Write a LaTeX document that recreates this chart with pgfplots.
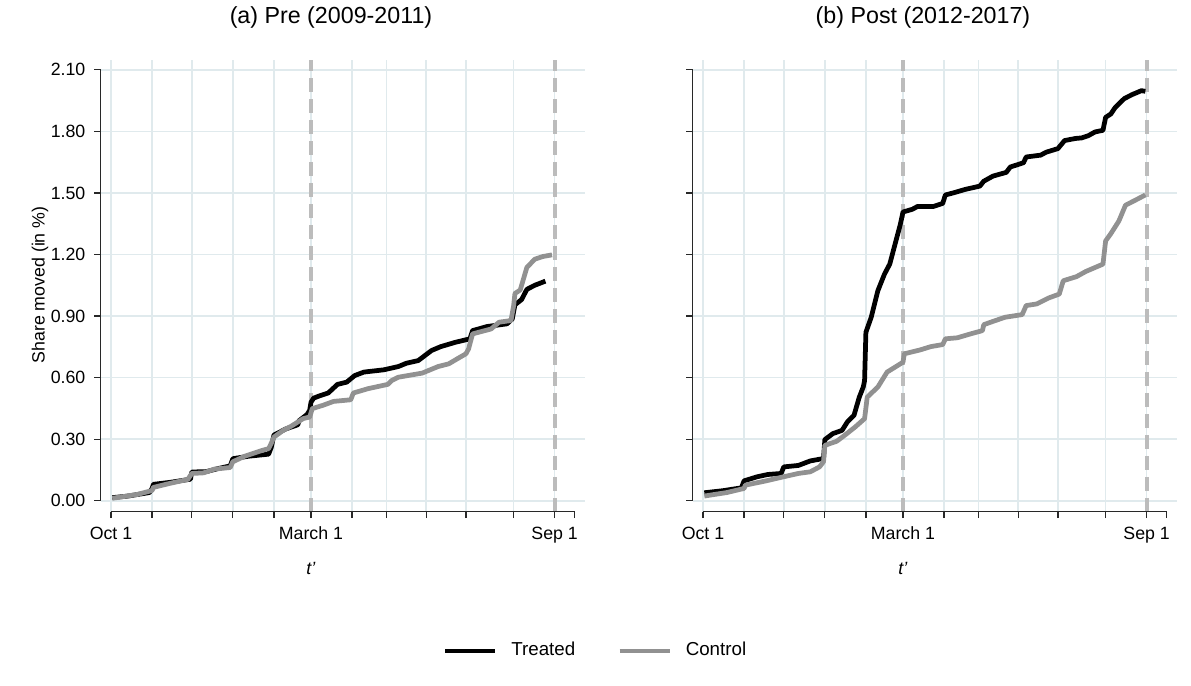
\documentclass[border=0pt]{standalone}
\usepackage{fontspec}
\setmainfont{Liberation Sans}
\usepackage{pgfplots}
\pgfplotsset{compat=1.18}

\definecolor{gridc}{RGB}{224,234,237}
\definecolor{ctrl}{RGB}{145,145,145}
\definecolor{dashc}{RGB}{188,188,188}
\definecolor{axc}{RGB}{40,40,40}

\tikzset{vdash/.style={dashc, line width=1.7pt, dash pattern=on 5.6pt off 2.8pt}}

\pgfplotsset{
  panel/.style={
    width=193.72pt, height=180.68pt, scale only axis,
    xmin=-7.78, xmax=357.9, ymin=-0.0534, ymax=2.1475,
    axis line style={draw=none},
    xtick={0,31,61,92,123,151,182,208,238,268,304,335},
    xticklabels={Oct 1,,,,,March 1,,,,,,Sep 1},
    extra x ticks={350}, extra x tick labels={}, extra x tick style={grid=none},
    ytick={0,0.3,0.6,0.9,1.2,1.5,1.8,2.1},
    /pgf/number format/assume math mode=true,
    yticklabel style={/pgf/number format/.cd, fixed, fixed zerofill, precision=2},
    tick align=outside, tick pos=left, major tick length=2.6pt,
    tick style={line width=0.5pt, axc},
    grid=major, major grid style={gridc, line width=0.6pt},
    ticklabel style={font=\fontsize{7.1}{8}\selectfont},
    clip=false,
  },
  treated/.style={black, line width=1.9pt, line join=round},
  control/.style={ctrl, line width=1.9pt, line join=round},
}

\begin{document}
\begin{tikzpicture}
\path[use as bounding box] (-40.28pt,-69.32pt) rectangle (436.12pt,204.68pt);

% ---------- (a) Pre ----------
\begin{axis}[panel, name=left,
  legend style={at={(axis description cs:1.0248,-0.3084)}, anchor=center,
    draw=none, fill=none, legend columns=2,
    font=\fontsize{7.5}{9}\selectfont,
    /tikz/every odd column/.append style={column sep=3.5pt},
    /tikz/every even column/.append style={column sep=14.8pt}},
  legend image code/.code={\draw[#1] (0pt,0pt) -- (20pt,0pt);},
]
\draw[vdash] (axis cs:151,-0.0534) -- (axis cs:151,2.1475);
\draw[vdash] (axis cs:335,-0.0534) -- (axis cs:335,2.1475);
\draw[axc, line width=0.5pt] (axis cs:0,-0.0534) -- (axis cs:350,-0.0534);
\draw[axc, line width=0.5pt] (axis cs:-7.78,0) -- (axis cs:-7.78,2.1);

\addplot[treated] coordinates {
(1,0.015) (13,0.023) (29,0.040) (31,0.060) (32,0.080) (45,0.090) (55,0.100) (60,0.105)
(61,0.140) (72,0.142) (81,0.157) (90,0.170) (92,0.205) (104,0.217) (119,0.227) (121,0.260)
(123,0.320) (132,0.350) (141,0.370) (142,0.390) (148,0.420) (150,0.440) (151,0.480) (153,0.500)
(157,0.510) (164,0.525) (171,0.567) (178,0.578) (184,0.610) (191,0.627) (206,0.638) (217,0.654)
(223,0.670) (232,0.683) (242,0.732) (249,0.751) (260,0.772) (271,0.789) (273,0.829) (284,0.849)
(299,0.862) (303,0.886) (305,0.955) (310,0.980) (314,1.030) (320,1.050) (328,1.070)
};
\addlegendentry{Treated}
\addplot[control] coordinates {
(1,0.012) (20,0.031) (31,0.050) (32,0.065) (44,0.084) (58,0.104) (61,0.133) (70,0.136)
(78,0.154) (90,0.162) (92,0.190) (101,0.217) (113,0.243) (119,0.254) (121,0.280) (123,0.310)
(130,0.343) (136,0.363) (145,0.400) (150,0.408) (152,0.449) (160,0.465) (168,0.484) (181,0.492)
(183,0.525) (194,0.546) (209,0.567) (212,0.586) (217,0.602) (235,0.622) (247,0.654) (255,0.667)
(261,0.690) (268,0.716) (270,0.740) (273,0.813) (287,0.837) (293,0.870) (302,0.878) (304,0.950)
(305,1.010) (309,1.027) (314,1.137) (320,1.177) (326,1.190) (333,1.198)
};
\addlegendentry{Control}

\node[font=\fontsize{9.3}{11}\selectfont] at (axis description cs:0.4755,1.095) {(a) Pre (2009-2011)};
\node[font=\fontsize{7.1}{8}\selectfont\itshape] at (axis description cs:0.434,-0.1246) {t'};
\node[rotate=90, font=\fontsize{7.1}{8}\selectfont] at (axis description cs:-0.1253,0.502) {Share moved (in \%)};
\end{axis}

% ---------- (b) Post ----------
\begin{axis}[panel, at={(236.8pt,0pt)}, yticklabels={}]
\draw[vdash] (axis cs:151,-0.0534) -- (axis cs:151,2.1475);
\draw[vdash] (axis cs:335,-0.0534) -- (axis cs:335,2.1475);
\draw[axc, line width=0.5pt] (axis cs:0,-0.0534) -- (axis cs:350,-0.0534);
\draw[axc, line width=0.5pt] (axis cs:-7.78,0) -- (axis cs:-7.78,2.1);

\addplot[treated] coordinates {
(1,0.039) (15,0.049) (29,0.063) (31,0.097) (41,0.117) (49,0.128) (59,0.133) (61,0.165)
(72,0.172) (81,0.194) (91,0.206) (92,0.298) (98,0.327) (105,0.343) (109,0.384) (114,0.416)
(118,0.505) (121,0.554) (122,0.586) (123,0.821) (127,0.894) (132,1.023) (137,1.104) (141,1.153)
(145,1.250) (149,1.347) (151,1.407) (158,1.420) (162,1.434) (174,1.434) (181,1.449) (183,1.490)
(189,1.500) (198,1.517) (209,1.533) (212,1.557) (219,1.582) (229,1.600) (232,1.626) (242,1.647)
(244,1.675) (255,1.684) (259,1.698) (268,1.716) (273,1.755) (281,1.765) (286,1.768) (291,1.779)
(296,1.797) (302,1.805) (304,1.868) (308,1.885) (311,1.914) (318,1.959) (324,1.979) (331,1.998)
(334,1.995)
};
\addplot[control] coordinates {
(1,0.023) (18,0.040) (31,0.060) (32,0.076) (47,0.096) (61,0.117) (72,0.133) (81,0.141)
(88,0.165) (91,0.190) (92,0.270) (101,0.290) (107,0.319) (115,0.360) (122,0.400) (124,0.505)
(132,0.554) (139,0.627) (147,0.659) (151,0.675) (152,0.716) (164,0.735) (172,0.751) (181,0.761)
(183,0.789) (192,0.794) (202,0.813) (211,0.829) (212,0.858) (219,0.874) (228,0.894) (241,0.907)
(244,0.951) (252,0.959) (261,0.988) (269,1.007) (272,1.072) (282,1.092) (289,1.117) (302,1.153)
(304,1.266) (308,1.302) (314,1.363) (319,1.440) (326,1.463) (334,1.490)
};

\node[font=\fontsize{9.3}{11}\selectfont] at (axis description cs:0.4755,1.095) {(b) Post (2012-2017)};
\node[font=\fontsize{7.1}{8}\selectfont\itshape] at (axis description cs:0.434,-0.1246) {t'};
\end{axis}
\end{tikzpicture}
\end{document}
